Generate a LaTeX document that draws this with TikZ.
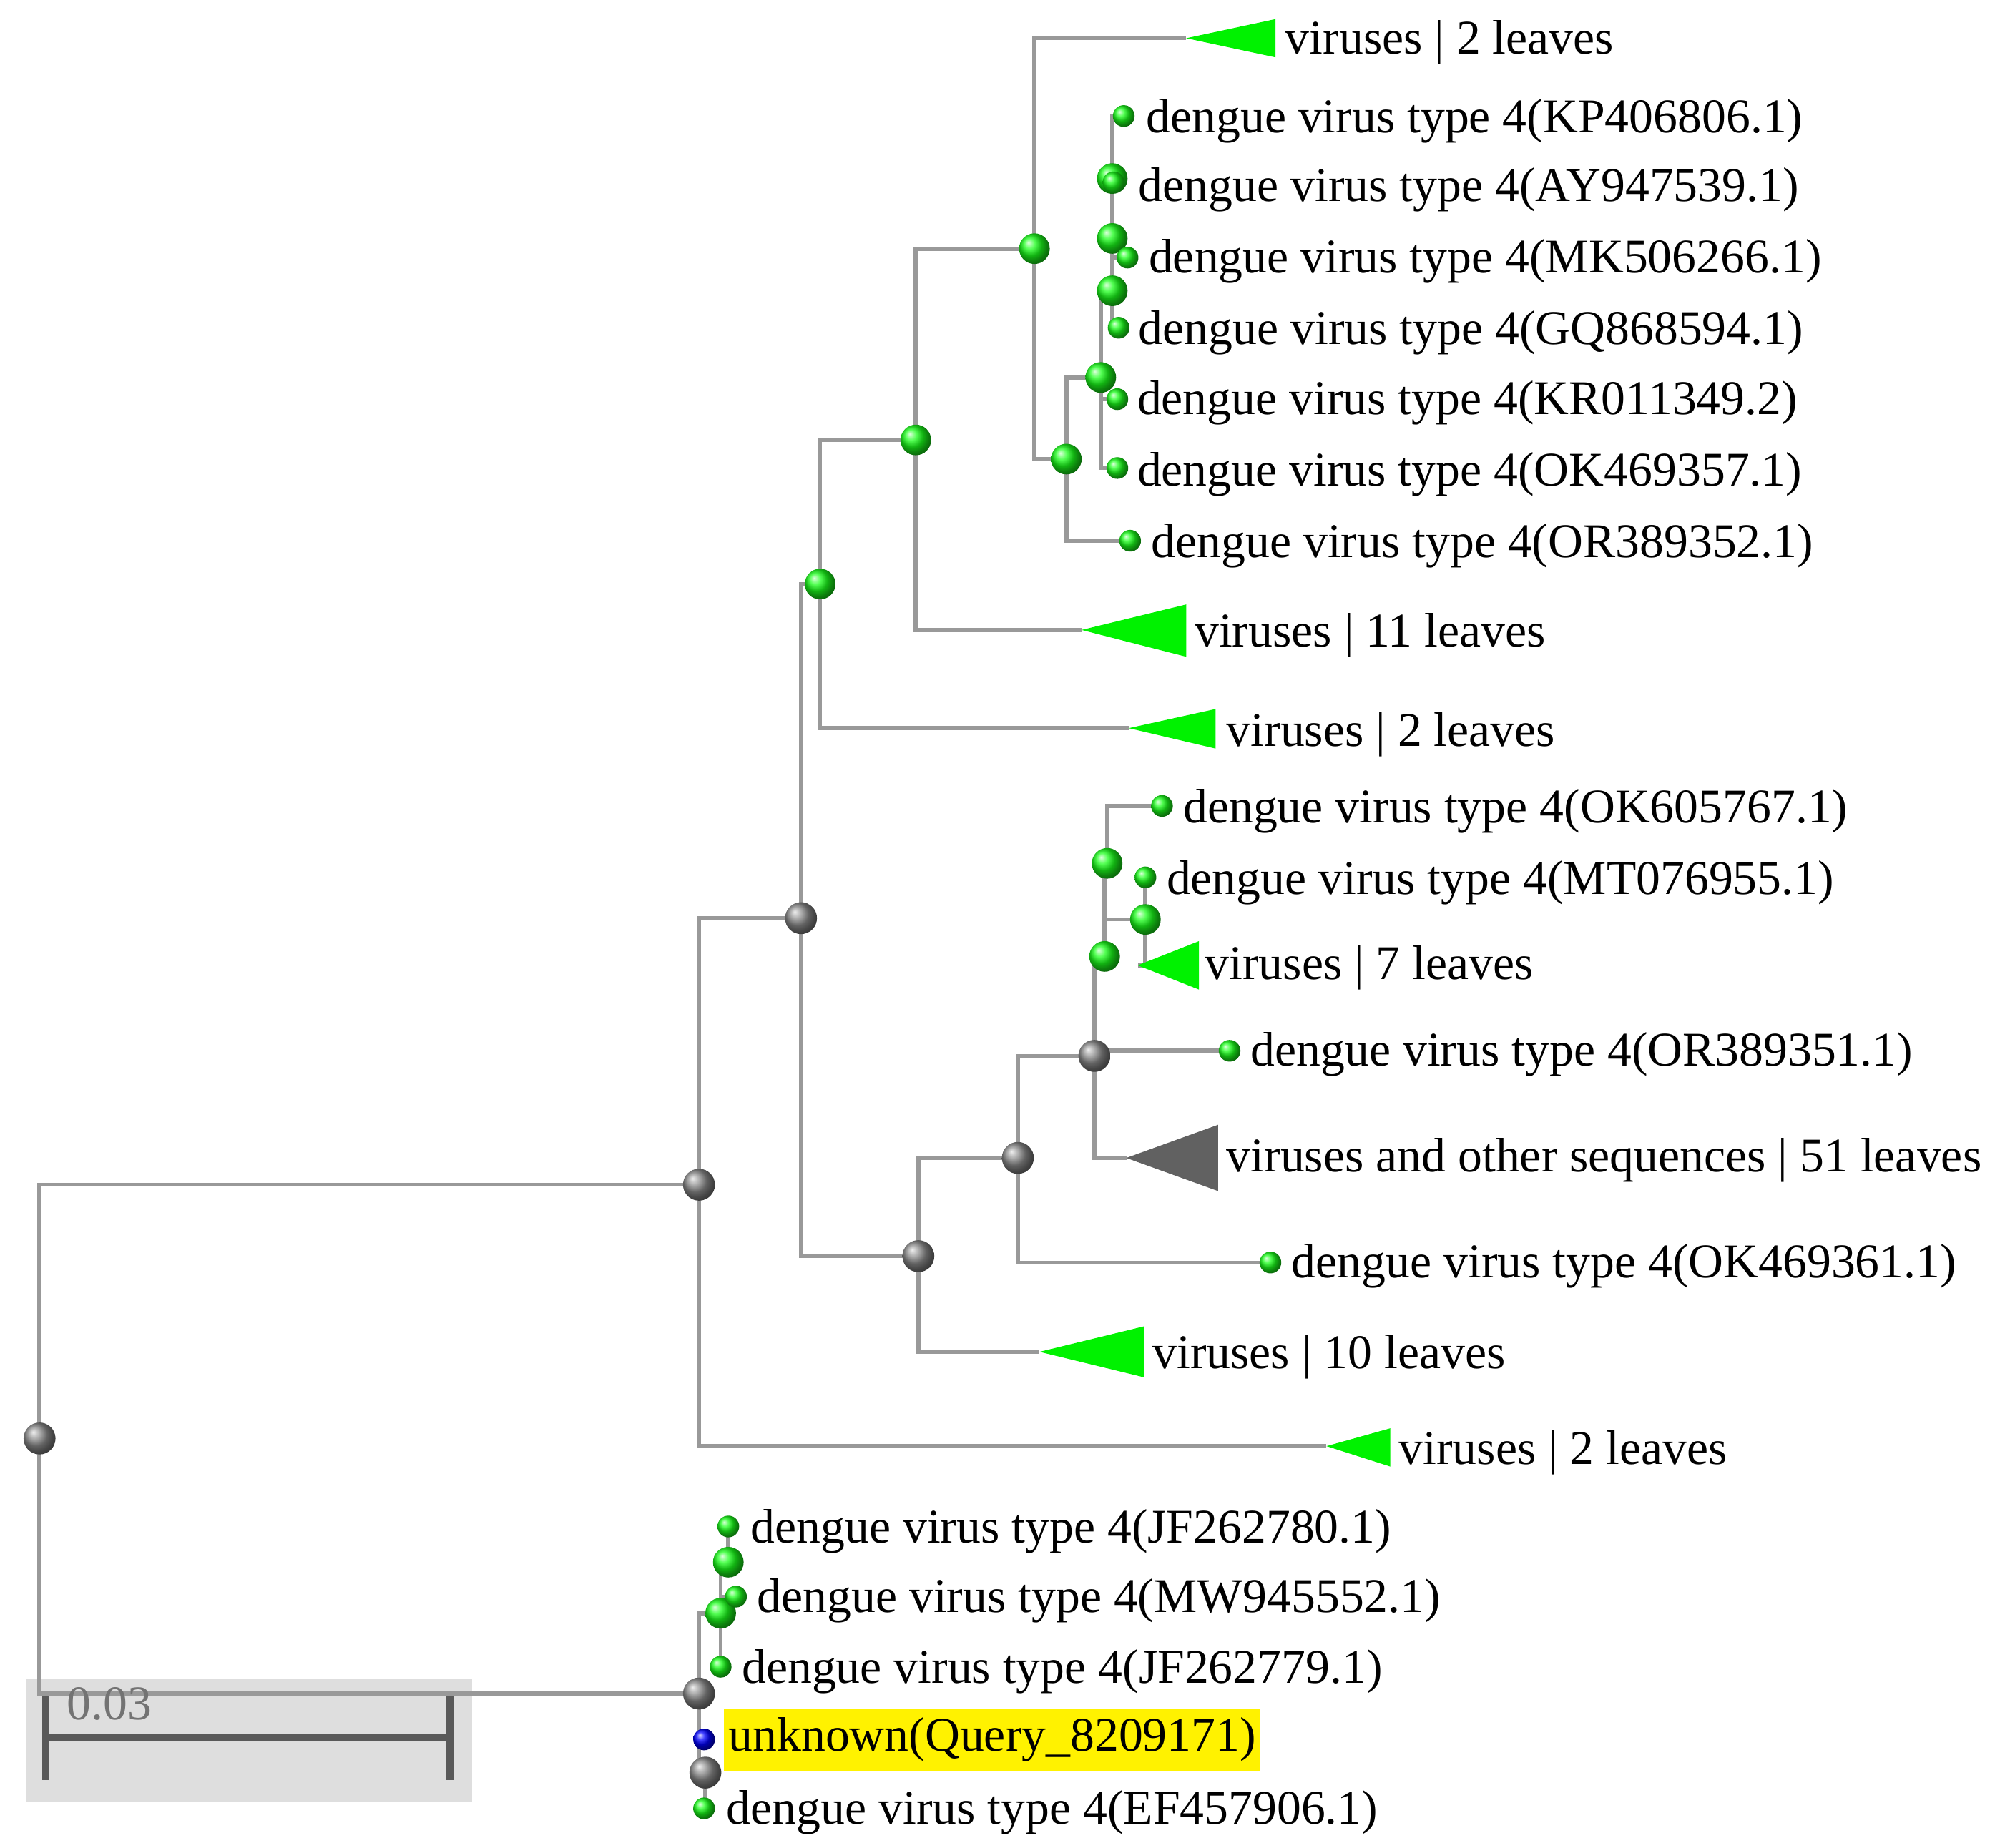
\documentclass[tikz,border=0pt]{standalone}
\usepackage{fontspec}
\setmainfont{Liberation Serif}
\begin{document}
\begin{tikzpicture}[x=0.01cm,y=-0.01cm,
 br/.style={draw=black!40,line width=0.9pt},
 gb/.style={circle,inner sep=0pt,minimum size=0.24cm,shading=ball,ball color=green!90!white,draw=none},
 lb/.style={circle,inner sep=0pt,minimum size=0.17cm,shading=ball,ball color=green!90!white},
 kb/.style={circle,inner sep=0pt,minimum size=0.25cm,shading=ball,ball color=black!45},
 bb/.style={circle,inner sep=0pt,minimum size=0.17cm,shading=ball,ball color=blue},
 lbl/.style={anchor=west,inner sep=0pt,font=\fontsize{10.8}{12}\selectfont},
 gtri/.style={fill=green!95!black,draw=none},
 ktri/.style={fill=black!62,draw=none}]
\useasboundingbox (0,0) rectangle (1568,1449);
% scale bar
\fill[black!13] (21,1317) rectangle (370,1413);
% coordinates
\coordinate (R) at (31,1128);
\coordinate (A) at (548,929);
\coordinate (Q) at (548,1328);
\coordinate (B) at (628,720);
\coordinate (C) at (643,458);
\coordinate (D) at (720,985);
\coordinate (E) at (718,345);
\coordinate (F) at (811,195);
\coordinate (G) at (836,360);
\coordinate (H) at (863,296);
\coordinate (I) at (872,228);
\coordinate (J) at (872,187);
\coordinate (K) at (872,140);
\coordinate (L) at (798,908);
\coordinate (M) at (858,828);
\coordinate (N) at (866,750);
\coordinate (O) at (868,677);
\coordinate (P) at (898,721);
\coordinate (S) at (565,1265);
\coordinate (U) at (571,1225);
\coordinate (T) at (553,1390);
% triangle tips
\coordinate (t1) at (930,30);
\coordinate (t2) at (848,494);
\coordinate (t3) at (885,571);
\coordinate (t4) at (892,757);
\coordinate (t5) at (883,908);
\coordinate (t6) at (815,1060);
\coordinate (t7) at (1040,1134);
% leaves
\coordinate (lKP) at (881,91);
\coordinate (lAY) at (873,143);
\coordinate (lMK) at (884,202);
\coordinate (lGQ) at (877,257);
\coordinate (lKR) at (876,313);
\coordinate (lOK57) at (876,367);
\coordinate (lOR52) at (886,424);
\coordinate (lOK67) at (911,632);
\coordinate (lMT) at (898,688);
\coordinate (lOR51) at (964,824);
\coordinate (lOK61) at (996,990);
\coordinate (lJF80) at (571,1197);
\coordinate (lMW) at (577,1252);
\coordinate (lJF79) at (565,1307);
\coordinate (lQ) at (552,1364);
\coordinate (lEF) at (552,1418);
% edges
\foreach \a/\b in {R/A,R/Q,A/B,A/t7,B/C,B/D,C/E,C/t3,E/F,E/t2,F/t1,F/G,G/H,G/lOR52,H/I,H/lKR,H/lOK57,I/J,I/lGQ,J/K,J/lMK,K/lKP,K/lAY,D/L,D/t6,L/M,L/lOK61,M/N,M/lOR51,M/t5,N/O,N/P,O/lOK67,P/lMT,P/t4,Q/S,Q/lQ,Q/T,S/U,S/lMW,S/lJF79,U/lJF80,T/lEF}
  \draw[br] (\a) |- (\b);
% triangles
\fill[gtri] (t1) -- (1000,15) -- (1000,45) -- cycle;
\fill[gtri] (t2) -- (930,474) -- (930,515) -- cycle;
\fill[gtri] (t3) -- (953,556) -- (953,587) -- cycle;
\fill[gtri] (t4) -- (940,738) -- (940,776) -- cycle;
\fill[ktri] (t5) -- (955,882) -- (955,934) -- cycle;
\fill[gtri] (t6) -- (897,1040) -- (897,1080) -- cycle;
\fill[gtri] (t7) -- (1090,1120) -- (1090,1150) -- cycle;
% internal balls
\foreach \n in {C,E,F,G,H,I,J,K,N,O,P,S,U}
  \node[gb] (\n b) at (\n) {};
\foreach \n in {R,A,Q,B,D,L,M,T}
  \node[kb] (\n b) at (\n) {};
\foreach \n in {lKP,lAY,lMK,lGQ,lKR,lOK57,lOR52,lOK67,lMT,lOR51,lOK61,lJF80,lMW,lJF79,lEF}
  \node[lb] (\n b) at (\n) {};
\node[bb] (lQb) at (lQ) {};
% labels
\node[lbl] (x1) at (1007,33) {viruses | 2 leaves};
\node[lbl] (x2) at (898,95) {dengue virus type 4(KP406806.1)};
\node[lbl] (x3) at (892,149) {dengue virus type 4(AY947539.1)};
\node[lbl] (x4) at (900,205) {dengue virus type 4(MK506266.1)};
\node[lbl] (x5) at (892,261) {dengue virus type 4(GQ868594.1)};
\node[lbl] (x6) at (891,316) {dengue virus type 4(KR011349.2)};
\node[lbl] (x7) at (891,372) {dengue virus type 4(OK469357.1)};
\node[lbl] (x8) at (902,428) {dengue virus type 4(OR389352.1)};
\node[lbl] (x9) at (936,498) {viruses | 11 leaves};
\node[lbl] (x10) at (961,576) {viruses | 2 leaves};
\node[lbl] (x11) at (927,636) {dengue virus type 4(OK605767.1)};
\node[lbl] (x12) at (914,692) {dengue virus type 4(MT076955.1)};
\node[lbl] (x13) at (944,759) {viruses | 7 leaves};
\node[lbl] (x14) at (980,827) {dengue virus type 4(OR389351.1)};
\node[lbl] (x15) at (961,910) {viruses and other sequences | 51 leaves};
\node[lbl] (x16) at (1012,993) {dengue virus type 4(OK469361.1)};
\node[lbl] (x17) at (903,1064) {viruses | 10 leaves};
\node[lbl] (x18) at (1096,1139) {viruses | 2 leaves};
\node[lbl] (x19) at (588,1201) {dengue virus type 4(JF262780.1)};
\node[lbl] (x20) at (593,1255) {dengue virus type 4(MW945552.1)};
\node[lbl] (x21) at (581,1311) {dengue virus type 4(JF262779.1)};
\node[lbl,fill=yellow,inner ysep=2pt,inner xsep=1pt] (x22) at (567,1364) {unknown(Query\_8209171)};
\node[lbl] (x23) at (569,1421) {dengue virus type 4(EF457906.1)};
% scale bar
\coordinate (s1) at (36,1363);
\coordinate (s2) at (353,1363);
\draw[black!65,line width=1.6pt] (s1) -- (s2);
\draw[black!65,line width=1.6pt] (36,1330) -- (36,1396) (353,1330) -- (353,1396);
\node[lbl,text=black!55] (sl) at (52,1336) {0.03};
\end{tikzpicture}
\end{document}
